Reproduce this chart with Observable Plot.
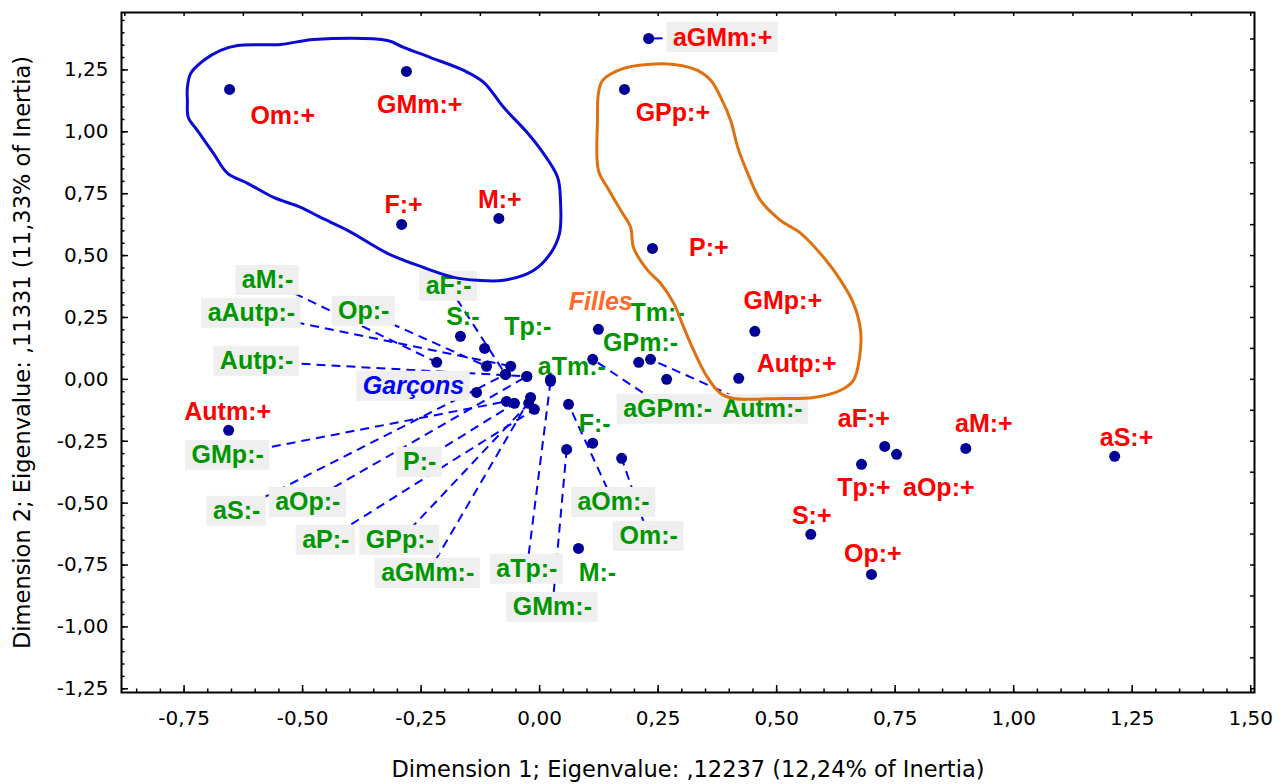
<!DOCTYPE html>
<html><head><meta charset="utf-8">
<script src="https://cdn.jsdelivr.net/npm/d3@7"></script>
<script src="https://cdn.jsdelivr.net/npm/@observablehq/plot@0.6"></script>
<style>html,body{margin:0;padding:0;background:#fff;} #chart svg{display:block;}</style>
</head><body><div id="chart"></div>
<script>
// ---------- axes ----------
const xTicks = [-0.75, -0.5, -0.25, 0, 0.25, 0.5, 0.75, 1, 1.25, 1.5];
const yTicks = [-1.25, -1, -0.75, -0.5, -0.25, 0, 0.25, 0.5, 0.75, 1, 1.25];
const xTitle = "Dimension 1; Eigenvalue: ,12237 (12,24% of Inertia)";
const yTitle = "Dimension 2; Eigenvalue: ,11331 (11,33% of Inertia)";

// ---------- positive modalities (red) ----------
const plusNames  = ["Om:+","GMm:+","F:+","M:+","aGMm:+","GPp:+","P:+","GMp:+","Autp:+","aF:+","aM:+","aS:+","Tp:+","aOp:+","S:+","Op:+","Autm:+"];
const plusDim1   = [-0.654,-0.281,-0.291,-0.086,0.230,0.179,0.238,0.454,0.420,0.728,0.899,1.213,0.679,0.753,0.572,0.700,-0.656];
const plusDim2   = [1.171,1.244,0.626,0.650,1.377,1.171,0.529,0.194,0.004,-0.271,-0.279,-0.311,-0.343,-0.303,-0.626,-0.788,-0.206];
const plusLabelX = [-0.542,-0.253,-0.287,-0.084,0.386,0.281,0.357,0.513,0.542,0.684,0.937,1.238,0.684,0.842,0.574,0.703,-0.658];
const plusLabelY = [1.062,1.107,0.703,0.723,1.381,1.078,0.529,0.315,0.061,-0.162,-0.182,-0.238,-0.440,-0.440,-0.553,-0.707,-0.133];

// ---------- negative modalities (green) ----------
const minusNames  = ["aM:-","aAutp:-","Op:-","Autp:-","aF:-","S:-","Tp:-","Tm:-","GPm:-","aTm:-","aGPm:-","Autm:-","F:-","GMp:-","P:-","aS:-","aOp:-","aP:-","GPp:-","aGMm:-","aTp:-","GMm:-","aOm:-","Om:-","M:-"];
const minusDim1   = [-0.217,-0.061,-0.112,-0.027,-0.072,-0.167,-0.116,0.209,0.268,0.023,0.112,0.234,0.112,-0.070,-0.053,-0.072,-0.027,-0.011,-0.023,-0.019,0.023,0.057,0.061,0.173,0.082];
const minusDim2   = [0.069,0.053,0.053,0.012,0.020,0.174,0.125,0.069,0.000,0.000,0.081,0.081,-0.258,-0.089,-0.097,0.020,0.012,-0.121,-0.097,-0.073,-0.008,-0.283,-0.101,-0.319,-0.683];
const minusLabelX = [-0.574,-0.608,-0.371,-0.597,-0.192,-0.162,-0.025,0.249,0.213,0.068,0.270,0.470,0.116,-0.658,-0.253,-0.639,-0.489,-0.451,-0.295,-0.236,-0.027,0.027,0.156,0.230,0.122];
const minusLabelY = [0.400,0.267,0.275,0.073,0.376,0.250,0.210,0.267,0.145,0.048,-0.121,-0.121,-0.182,-0.307,-0.335,-0.533,-0.497,-0.650,-0.650,-0.784,-0.767,-0.921,-0.497,-0.634,-0.784];

// ---------- supplementary groups ----------
const groupNames  = ["Garçons","Filles"];
const groupDim1   = [-0.133, 0.124];
const groupDim2   = [-0.053, 0.202];
const groupLabelX = [-0.266, 0.129];
const groupLabelY = [-0.028, 0.311];

// ---------- hand-drawn outlines ----------
const blueOutline = [[-0.743,1.179],[-0.736,1.236],[-0.709,1.288],[-0.673,1.329],[-0.637,1.349],[-0.546,1.353],[-0.477,1.373],[-0.321,1.369],[-0.287,1.341],[-0.230,1.300],[-0.160,1.248],[-0.118,1.200],[-0.076,1.099],[-0.025,0.994],[0.008,0.913],[0.038,0.816],[0.044,0.723],[0.042,0.590],[0.023,0.509],[-0.013,0.440],[-0.076,0.400],[-0.131,0.400],[-0.181,0.412],[-0.245,0.452],[-0.321,0.509],[-0.405,0.602],[-0.462,0.654],[-0.504,0.695],[-0.561,0.735],[-0.616,0.792],[-0.658,0.832],[-0.688,0.913],[-0.722,1.006],[-0.741,1.058],[-0.743,1.127]];
const orangeOutline = [[0.133,1.208],[0.177,1.256],[0.228,1.272],[0.283,1.272],[0.333,1.248],[0.361,1.208],[0.382,1.139],[0.403,1.046],[0.418,0.937],[0.439,0.832],[0.466,0.723],[0.508,0.642],[0.551,0.590],[0.599,0.493],[0.635,0.400],[0.662,0.307],[0.677,0.198],[0.675,0.089],[0.662,-0.004],[0.635,-0.044],[0.578,-0.073],[0.508,-0.077],[0.409,-0.077],[0.382,-0.057],[0.354,0.008],[0.325,0.117],[0.304,0.210],[0.283,0.307],[0.255,0.388],[0.228,0.440],[0.198,0.533],[0.192,0.614],[0.171,0.683],[0.143,0.775],[0.124,0.844],[0.122,1.046],[0.124,1.155]];

// ---------- layout ----------
const W = 1281, H = 784;
const mL = 121, mR = 27, mT = 12, mB = 92;
const X0 = -0.882, X1 = 1.508, Y0 = -1.265, Y1 = 1.482;
const kx = (W - mL - mR) / (X1 - X0);
const ky = (H - mT - mB) / (Y1 - Y0);

const colors = {plus: "#ff0000", minus: "#009600", group0: "#0000ff", group1: "#ff6a2a"};
const LABEL_FONT = "'Liberation Sans', Arial, sans-serif";

const rows = [];
plusNames.forEach((n, i) => rows.push({name: n, x: plusDim1[i], y: plusDim2[i], lx: plusLabelX[i], ly: plusLabelY[i], color: colors.plus, italic: false}));
minusNames.forEach((n, i) => rows.push({name: n, x: minusDim1[i], y: minusDim2[i], lx: minusLabelX[i], ly: minusLabelY[i], color: colors.minus, italic: false}));
groupNames.forEach((n, i) => rows.push({name: n, x: groupDim1[i], y: groupDim2[i], lx: groupLabelX[i], ly: groupLabelY[i], color: colors["group" + i], italic: true}));

const ctx = document.createElement("canvas").getContext("2d");
rows.forEach(d => {
  ctx.font = `${d.italic ? "italic " : ""}bold 25px 'Liberation Sans', Arial, sans-serif`;
  d.w = ctx.measureText(d.name).width;
  d.callout = Math.hypot((d.lx - d.x) * kx, (d.ly - d.y) * ky) > 61;
});
const callouts = rows.filter(d => d.callout);

const fmt = v => v.toFixed(2).replace(".", ",");
const minorX = d3.range(-0.85, 1.5001, 0.05).map(v => +v.toFixed(2));
const minorY = d3.range(-1.25, 1.4501, 0.05).map(v => +v.toFixed(2));
const topX = d3.range(-0.875, 1.5001, 0.125);
const rightY = d3.range(-1.25, 1.4501, 0.125);

const chart = Plot.plot({
  width: W, height: H,
  marginLeft: mL, marginRight: mR, marginTop: mT, marginBottom: mB,
  style: {fontFamily: "'DejaVu Sans', sans-serif", fontSize: "20px", background: "#fff", color: "#000"},
  x: {domain: [X0, X1], label: null},
  y: {domain: [Y0, Y1], label: null},
  marks: [
    // callout lines
    Plot.link(callouts, {x1: "lx", y1: "ly", x2: "x", y2: "y", stroke: "#0000ff", strokeWidth: 2, strokeDasharray: "9,6"}),
    // label backgrounds
    Plot.rect(callouts, {x1: d => d.lx - (d.w / 2 + 6) / kx, x2: d => d.lx + (d.w / 2 + 6) / kx, y1: d => d.ly - 15 / ky, y2: d => d.ly + 15 / ky, fill: "#efefef"}),
    // labels
    Plot.text(rows.filter(d => !d.italic), {x: "lx", y: "ly", text: "name", fill: "color", fontFamily: LABEL_FONT, fontWeight: "bold", fontSize: 25, textAnchor: "middle", lineAnchor: "middle"}),
    Plot.text(rows.filter(d => d.italic), {x: "lx", y: "ly", text: "name", fill: "color", fontFamily: LABEL_FONT, fontWeight: "bold", fontStyle: "italic", fontSize: 25, textAnchor: "middle", lineAnchor: "middle"}),
    // outlines
    Plot.line(blueOutline, {x: d => d[0], y: d => d[1], curve: "catmull-rom-closed", stroke: "#0a0ad2", strokeWidth: 3}),
    Plot.line(orangeOutline, {x: d => d[0], y: d => d[1], curve: "catmull-rom-closed", stroke: "#e0700f", strokeWidth: 3}),
    // points
    Plot.dot(rows, {x: "x", y: "y", r: 5.5, fill: "#000096", stroke: "none"}),
    // frame & ticks
    Plot.frame({stroke: "#000", strokeWidth: 2}),
    Plot.ruleX(minorX, {x: d => d, y1: Y0, y2: Y0 + 3.5 / ky, stroke: "#000", strokeWidth: 1.5}),
    Plot.ruleX(xTicks, {x: d => d, y1: Y0, y2: Y0 + 7 / ky, stroke: "#000", strokeWidth: 1.5}),
    Plot.ruleY(minorY, {y: d => d, x1: X0, x2: X0 + 3.5 / kx, stroke: "#000", strokeWidth: 1.5}),
    Plot.ruleY(yTicks, {y: d => d, x1: X0, x2: X0 + 7 / kx, stroke: "#000", strokeWidth: 1.5}),
    Plot.ruleX(topX, {x: d => d, y1: Y1, y2: Y1 - 4 / ky, stroke: "#000", strokeWidth: 1.5}),
    Plot.ruleY(rightY, {y: d => d, x1: X1, x2: X1 - 4 / kx, stroke: "#000", strokeWidth: 1.5}),
    Plot.axisX({ticks: xTicks, tickFormat: fmt, tickSize: 0, tickPadding: 18, fontSize: 20, label: null}),
    Plot.axisY({ticks: yTicks, tickFormat: fmt, tickSize: 0, tickPadding: 13, fontSize: 20, label: null}),
    Plot.text([xTitle], {frameAnchor: "bottom", dy: 77, text: d => d, fontSize: 22.5, textAnchor: "middle", lineAnchor: "middle"}),
    Plot.text([yTitle], {frameAnchor: "left", dx: -99, rotate: -90, text: d => d, fontSize: 22.5, textAnchor: "middle", lineAnchor: "middle"})
  ]
});
document.getElementById("chart").appendChild(chart);
</script>
</body></html>
